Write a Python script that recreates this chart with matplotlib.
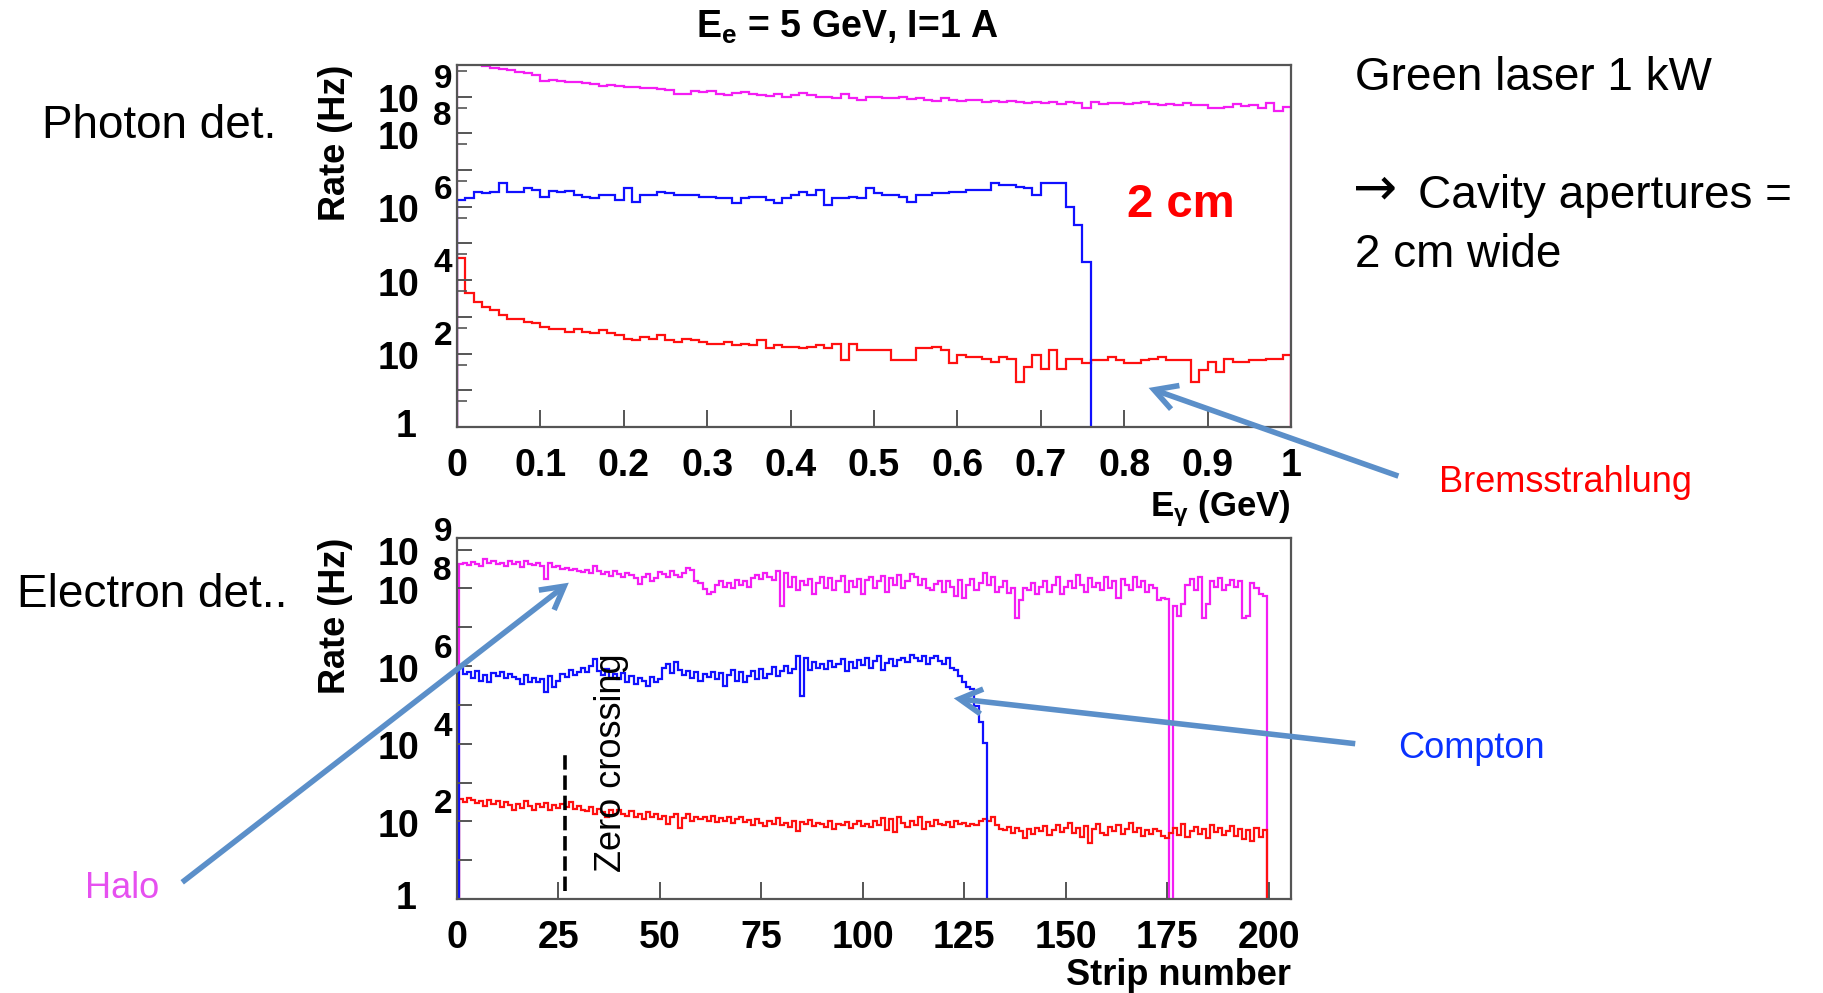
import numpy as np
import matplotlib.pyplot as plt
from matplotlib.patches import FancyArrowPatch

# fonts: Liberation Sans stands in for Helvetica/Arial
plt.rcParams['font.family'] = ['Liberation Sans', 'DejaVu Sans']
plt.rcParams['mathtext.fontset'] = 'custom'
plt.rcParams['mathtext.rm'] = 'Liberation Sans:bold'
plt.rcParams['mathtext.it'] = 'Liberation Sans:bold'
plt.rcParams['mathtext.bf'] = 'Liberation Sans:bold'

# ---------------- data (log10 of rate in Hz) ----------------
# photon detector, 100 bins over E_gamma = 0..1 GeV
photon_halo_log = [
    9.95, 9.92, 9.88, 9.83, 9.79, 9.75, 9.72, 9.68, 9.63, 9.58,
    9.43, 9.45, 9.42, 9.40, 9.41, 9.38, 9.33, 9.30, 9.32, 9.28,
    9.27, 9.25, 9.22, 9.24, 9.20, 9.18, 9.08, 9.06, 9.15, 9.12,
    9.14, 9.08, 9.05, 9.10, 9.12, 9.06, 9.05, 9.02, 9.08, 9.00,
    9.04, 9.10, 9.03, 8.98, 9.00, 8.95, 9.08, 8.96, 8.92, 8.98,
    8.98, 8.97, 8.95, 8.99, 8.93, 8.96, 8.92, 8.88, 8.95, 8.90,
    8.88, 8.92, 8.90, 8.86, 8.88, 8.84, 8.88, 8.85, 8.82, 8.86,
    8.82, 8.84, 8.80, 8.85, 8.82, 8.70, 8.84, 8.80, 8.82, 8.83,
    8.80, 8.82, 8.84, 8.80, 8.78, 8.80, 8.76, 8.82, 8.76, 8.78,
    8.70, 8.68, 8.72, 8.80, 8.74, 8.78, 8.70, 8.82, 8.62, 8.72,
]
# Compton photons: only the first 76 bins are filled (edge at 0.76 GeV)
photon_compton_log = [
    6.18, 6.23, 6.41, 6.36, 6.41, 6.65, 6.41, 6.41, 6.50, 6.45,
    6.27, 6.43, 6.41, 6.43, 6.32, 6.27, 6.23, 6.32, 6.32, 6.18,
    6.50, 6.14, 6.32, 6.32, 6.41, 6.36, 6.32, 6.32, 6.32, 6.27,
    6.27, 6.23, 6.23, 6.09, 6.23, 6.27, 6.27, 6.18, 6.09, 6.23,
    6.32, 6.41, 6.32, 6.45, 6.05, 6.23, 6.23, 6.27, 6.23, 6.50,
    6.36, 6.32, 6.32, 6.27, 6.14, 6.32, 6.32, 6.36, 6.36, 6.41,
    6.41, 6.45, 6.45, 6.45, 6.64, 6.59, 6.59, 6.55, 6.50, 6.32,
    6.65, 6.65, 6.65, 6.00, 5.50, 4.50,
]
photon_brems_log = [
    4.59, 3.64, 3.41, 3.27, 3.18, 3.05, 2.95, 2.95, 2.86, 2.82,
    2.73, 2.68, 2.68, 2.59, 2.68, 2.59, 2.55, 2.64, 2.55, 2.50,
    2.41, 2.36, 2.45, 2.41, 2.50, 2.36, 2.32, 2.41, 2.36, 2.32,
    2.27, 2.27, 2.32, 2.23, 2.27, 2.23, 2.36, 2.14, 2.23, 2.18,
    2.18, 2.14, 2.18, 2.23, 2.14, 2.27, 1.82, 2.27, 2.09, 2.09,
    2.09, 2.09, 1.82, 1.82, 1.82, 2.14, 2.14, 2.18, 2.09, 1.73,
    1.95, 1.91, 1.91, 1.86, 1.77, 1.91, 1.86, 1.23, 1.64, 1.95,
    1.59, 2.09, 1.59, 1.86, 1.86, 1.73, 1.82, 1.82, 1.91, 1.82,
    1.73, 1.73, 1.82, 1.86, 1.91, 1.82, 1.82, 1.82, 1.23, 1.55,
    1.77, 1.50, 1.86, 1.77, 1.77, 1.82, 1.82, 1.86, 1.86, 1.95,
]

# electron detector, strips 1..199 (nan = empty strip)
electron_halo_log = [
    8.62, 8.66, 8.60, 8.68, 8.63, 8.58, 8.77, 8.65, 8.70, 8.62,
    8.66, 8.58, 8.70, 8.64, 8.68, 8.56, 8.72, 8.62, 8.60, 8.66,
    8.58, 8.24, 8.66, 8.55, 8.58, 8.50, 8.54, 8.48, 8.50, 8.45,
    8.42, 8.48, 8.40, 8.58, 8.45, 8.38, 8.42, 8.33, 8.46, 8.36,
    8.30, 8.40, 8.34, 8.28, 8.12, 8.30, 8.37, 8.20, 8.28, 8.42,
    8.36, 8.30, 8.44, 8.35, 8.30, 8.40, 8.52, 8.48, 8.20, 8.15,
    7.98, 7.86, 7.90, 8.10, 8.20, 8.04, 8.15, 8.00, 8.22, 8.08,
    8.18, 8.04, 8.28, 8.35, 8.25, 8.40, 8.30, 8.22, 8.45, 7.55,
    8.40, 8.05, 8.30, 7.95, 8.20, 8.10, 8.25, 7.85, 8.15, 8.30,
    8.00, 8.28, 7.95, 8.20, 8.32, 7.90, 8.18, 8.05, 8.25, 7.85,
    8.22, 8.30, 8.00, 8.18, 8.32, 7.92, 8.26, 8.10, 8.35, 8.02,
    8.20, 8.38, 8.30, 8.10, 8.25, 8.00, 7.95, 8.12, 8.20, 7.90,
    8.18, 8.05, 7.80, 8.22, 7.75, 8.10, 8.25, 7.95, 8.15, 8.40,
    8.10, 8.30, 7.90, 8.05, 8.20, 7.88, 8.02, 7.25, 7.70, 8.00,
    7.95, 8.15, 7.85, 8.05, 8.20, 7.92, 8.10, 8.30, 7.85, 8.05,
    8.20, 8.00, 8.35, 8.10, 7.90, 8.28, 8.05, 8.15, 7.95, 8.30,
    8.02, 8.18, 7.75, 8.25, 8.10, 7.95, 8.30, 8.05, 8.20, 7.90,
    8.10, 8.02, 7.70, 7.75, 7.72, np.nan, 7.55, 7.30, 7.60, 8.10,
    8.25, 7.95, 8.30, 7.25, 7.60, 8.20, 8.05, 8.28, 7.95, 8.10,
    8.22, 8.05, 8.18, 7.25, 7.30, 8.15, 8.00, 7.85, 7.81,
]
# Compton electrons: strips 1..130
electron_compton_log = [
    5.95, 5.80, 5.85, 5.70, 5.88, 5.62, 5.78, 5.60, 5.82, 5.75,
    5.84, 5.70, 5.79, 5.72, 5.66, 5.55, 5.76, 5.60, 5.70, 5.58,
    5.68, 5.32, 5.75, 5.45, 5.62, 5.80, 5.72, 5.90, 5.78, 5.86,
    5.95, 5.84, 6.00, 6.18, 5.88, 5.76, 5.92, 5.70, 5.80, 5.66,
    5.82, 5.60, 5.74, 5.55, 5.70, 5.62, 5.50, 5.72, 5.58, 5.66,
    5.95, 6.05, 5.82, 6.10, 5.90, 5.78, 5.88, 5.70, 5.84, 5.62,
    5.80, 5.72, 5.86, 5.66, 5.82, 5.50, 5.76, 5.90, 5.62, 5.84,
    5.58, 5.74, 5.88, 5.66, 5.92, 5.70, 5.80, 5.98, 5.74, 5.88,
    6.00, 5.82, 5.92, 6.25, 5.24, 6.20, 5.90, 6.10, 5.95, 6.05,
    5.92, 6.12, 5.98, 6.05, 6.18, 5.88, 6.10, 5.95, 6.15, 6.02,
    6.22, 5.96, 6.12, 6.25, 5.90, 6.08, 6.18, 6.00, 6.15, 6.22,
    6.10, 6.28, 6.20, 6.12, 6.26, 6.05, 6.20, 6.25, 6.14, 6.05,
    6.22, 5.95, 5.90, 5.75, 5.58, 5.45, 5.40, 4.98, 4.55, 4.03,
]
electron_brems_log = [
    2.58, 2.50, 2.60, 2.55, 2.48, 2.52, 2.40, 2.56, 2.45, 2.52,
    2.38, 2.50, 2.42, 2.30, 2.46, 2.35, 2.52, 2.40, 2.28, 2.44,
    2.36, 2.48, 2.30, 2.42, 2.34, 2.45, 2.38, 2.50, 2.32, 2.40,
    2.30, 2.26, 2.38, 2.20, 2.32, 2.24, 2.10, 2.28, 2.18, 2.30,
    2.20, 2.14, 2.26, 2.12, 2.20, 2.06, 2.24, 2.10, 2.18, 2.05,
    2.15, 1.92, 2.10, 2.20, 1.82, 2.08, 2.18, 2.00, 2.12, 2.05,
    2.10, 2.02, 2.14, 1.98, 2.08, 2.00, 2.12, 1.95, 2.06, 2.10,
    1.98, 2.04, 1.90, 2.06, 1.96, 1.88, 2.02, 1.94, 2.08, 1.90,
    1.96, 1.85, 2.00, 1.75, 1.98, 1.92, 2.04, 1.88, 1.96, 1.92,
    1.86, 2.00, 1.80, 1.94, 1.90, 1.98, 1.84, 1.92, 2.02, 1.88,
    1.94, 1.85, 2.00, 1.90, 2.08, 1.78, 2.05, 1.72, 2.10, 1.95,
    1.85, 2.02, 1.90, 2.12, 1.80, 1.98, 1.88, 2.04, 1.94, 1.90,
    1.98, 1.86, 2.00, 1.92, 1.96, 1.88, 1.94, 1.90, 2.02, 2.06,
    2.00, 2.10, 1.90, 1.80, 1.78, 1.86, 1.70, 1.84, 1.76, 1.58,
    1.80, 1.68, 1.82, 1.74, 1.88, 1.66, 1.78, 1.90, 1.72, 1.84,
    1.95, 1.70, 1.82, 1.60, 1.88, 1.45, 1.80, 1.92, 1.70, 1.64,
    1.86, 1.74, 1.90, 1.68, 1.80, 1.96, 1.72, 1.84, 1.62, 1.78,
    1.68, 1.80, 1.74, 1.62, 1.56, 1.70, 1.82, 1.66, 1.92, 1.60,
    1.74, 1.86, 1.68, 1.80, 1.58, 1.90, 1.72, 1.84, 1.66, 1.76,
    1.88, 1.62, 1.80, 1.55, 1.78, 1.50, 1.84, 1.60, 1.78,
]

gamma_ticks = [0, 0.1, 0.2, 0.3, 0.4, 0.5, 0.6, 0.7, 0.8, 0.9, 1]
gamma_ticklabels = ['0', '0.1', '0.2', '0.3', '0.4', '0.5', '0.6', '0.7', '0.8', '0.9', '1']
strip_ticks = [0, 25, 50, 75, 100, 125, 150, 175, 200]
rate_label_exps = [0, 2, 4, 6, 8, 9]

zero_crossing_strip = 26.5
zero_crossing_span = (1.6, 6.0e3)

HALO_C = '#f41df4'
COMP_C = '#1010ff'
BREM_C = '#ff1010'
FRAME_C = '#555555'
ARROW_C = '#5b8fc9'
FLOOR = 1e-3   # empty bins are drawn below the axis

W, H = 1824, 993


def fx(px):
    return px / W


def fy(py):
    return 1 - py / H


def to_rate(logs):
    a = np.array(logs, dtype=float)
    return np.where(np.isnan(a), FLOOR, 10.0 ** a)


fig = plt.figure(figsize=(W / 100, H / 100), dpi=100)
ax1 = fig.add_axes([fx(457), fy(427), fx(1291) - fx(457), fy(65) - fy(427)])
ax2 = fig.add_axes([fx(457), fy(899), fx(1291) - fx(457), fy(538) - fy(899)])

gamma_edges = np.linspace(0, 1, len(photon_halo_log) + 1)
strip_edges = np.arange(0.5, len(electron_halo_log) + 1, 1.0)

for ax in (ax1, ax2):
    ax.set_yscale('log')

# photon detector histograms
ax1.stairs(to_rate(photon_halo_log), gamma_edges, baseline=FLOOR, color=HALO_C, lw=1.6)
ax1.stairs(to_rate(photon_brems_log), gamma_edges, baseline=FLOOR, color=BREM_C, lw=1.6)
ax1.stairs(to_rate(photon_compton_log), gamma_edges[:len(photon_compton_log) + 1],
           baseline=FLOOR, color=COMP_C, lw=1.6)

# electron detector histograms
ax2.stairs(to_rate(electron_halo_log), strip_edges, baseline=FLOOR, color=HALO_C, lw=1.6)
ax2.stairs(to_rate(electron_brems_log), strip_edges, baseline=FLOOR, color=BREM_C, lw=1.6)
ax2.stairs(to_rate(electron_compton_log), strip_edges[:len(electron_compton_log) + 1],
           baseline=FLOOR, color=COMP_C, lw=1.6)
ax2.vlines(zero_crossing_strip, *zero_crossing_span, colors='k',
           linestyles=(0, (4, 1.6)), lw=2.6)

ax1.set_xlim(0, 1)
ax1.set_ylim(1, 10 ** 9.86)
ax2.set_xlim(0, 205.5)
ax2.set_ylim(1, 10 ** 9.3)

ax1.set_xticks(gamma_ticks)
ax1.set_xticklabels(gamma_ticklabels)
ax2.set_xticks(strip_ticks)
ax2.set_xticklabels([str(t) for t in strip_ticks])

for ax in (ax1, ax2):
    for s in ax.spines.values():
        s.set_color(FRAME_C)
        s.set_linewidth(1.6)
    ax.set_yticks([10.0 ** e for e in range(0, 10)])
    ax.tick_params(axis='x', which='major', direction='in', length=12, width=1.4,
                   color=FRAME_C, labelsize=27, pad=15)
    ax.tick_params(axis='y', which='major', direction='in', length=11, width=1.4,
                   color=FRAME_C, labelleft=False)
    for lab in ax.get_xticklabels():
        lab.set_fontweight('bold')
    # ROOT style labels: "10" with a raised exponent
    for e in rate_label_exps:
        if e == 0:
            ax.annotate('1', xy=(0, 1.0), xycoords=('axes fraction', 'data'),
                        xytext=(-29, 0), textcoords='offset points',
                        ha='right', va='center', fontsize=27, fontweight='bold')
            continue
        ax.annotate('10', xy=(0, 10.0 ** e), xycoords=('axes fraction', 'data'),
                    xytext=(-27, -4), textcoords='offset points',
                    ha='right', va='center', fontsize=27, fontweight='bold')
        ax.annotate(str(e), xy=(0, 10.0 ** e), xycoords=('axes fraction', 'data'),
                    xytext=(-17, 12), textcoords='offset points',
                    ha='left', va='center', fontsize=24, fontweight='bold')
    ax.text(-0.146, 1.0, 'Rate (Hz)', transform=ax.transAxes, rotation=90,
            ha='center', va='top', fontsize=26, fontweight='bold')

ax1.minorticks_off()
ax1.set_yticks([5 * 10.0 ** e for e in range(0, 10)], minor=True)
ax1.tick_params(axis='y', which='minor', direction='in', length=7, width=1.2,
                color=FRAME_C)
ax2.tick_params(axis='y', which='minor', left=False)
ax2.tick_params(axis='x', which='minor', bottom=False)
ax1.tick_params(axis='x', which='minor', bottom=False)

# axis titles, ROOT style at the right end
fig.text(fx(1291), fy(516), r'$\mathbf{E_{\gamma}}$ (GeV)', ha='right', va='baseline',
         fontsize=25, fontweight='bold')
fig.text(fx(1291), fy(985), 'Strip number', ha='right', va='baseline',
         fontsize=26, fontweight='bold')
fig.text(fx(847), fy(38), r'$\mathbf{E_{e}}$ = 5 GeV, I=1 A', ha='center', va='baseline',
         fontsize=27, fontweight='bold')

# slide annotations
fig.text(fx(42), fy(138), 'Photon det.', ha='left', va='baseline', fontsize=33)
fig.text(fx(17), fy(607), 'Electron det..', ha='left', va='baseline', fontsize=33)
fig.text(fx(1355), fy(90), 'Green laser 1 kW', ha='left', va='baseline', fontsize=33)
fig.text(fx(1353), fy(204), '\u2192', ha='left', va='baseline', fontsize=38,
         family='DejaVu Sans')
fig.text(fx(1418), fy(208), 'Cavity apertures =', ha='left', va='baseline', fontsize=33)
fig.text(fx(1355), fy(267), '2 cm wide', ha='left', va='baseline', fontsize=33)
fig.text(fx(1127), fy(217), '2 cm', ha='left', va='baseline', fontsize=34,
         fontweight='bold', color='#ff0000')
fig.text(fx(1439), fy(492), 'Bremsstrahlung', ha='left', va='baseline', fontsize=26,
         color='#ff0000')
fig.text(fx(1398), fy(758), 'Compton', ha='left', va='baseline', fontsize=26,
         color='#0a32ff')
fig.text(fx(85), fy(898), 'Halo', ha='left', va='baseline', fontsize=26,
         color='#e650f0')
ax2.text(38, 10 ** 3.5, 'Zero crossing', rotation=90, ha='center', va='center',
         fontsize=26, color='k')

# arrows (tail -> tip, figure pixels)
arrows = [((1401, 477), (1146, 387)),
          ((1358, 744), (951, 698)),
          ((180, 884), (571, 581))]
for tail, tip in arrows:
    fig.add_artist(FancyArrowPatch((fx(tail[0]), fy(tail[1])), (fx(tip[0]), fy(tip[1])),
                                   transform=fig.transFigure,
                                   arrowstyle='->,head_length=0.9,head_width=0.5',
                                   mutation_scale=18, lw=4.0, color=ARROW_C,
                                   capstyle='butt', joinstyle='miter'))

fig.savefig('out.png', dpi=100, facecolor='white')
